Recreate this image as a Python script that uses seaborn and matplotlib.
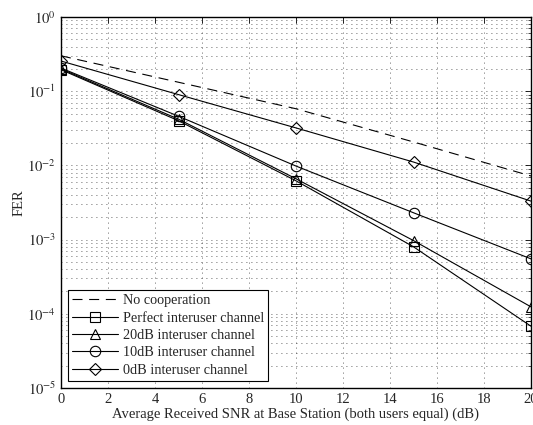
import numpy as np
import pandas as pd
import matplotlib
matplotlib.use("Agg")
import matplotlib.pyplot as plt
import seaborn as sns

snr = [0, 5, 10, 15, 20]
no_coop = [0.30, 0.132, 0.058, 0.0207, 0.0072]
perfect = [0.195, 0.040, 0.0062, 0.00080, 0.000068]
db20 = [0.200, 0.042, 0.0066, 0.00097, 0.000124]
db10 = [0.205, 0.046, 0.0098, 0.0023, 0.00055]
db0 = [0.255, 0.090, 0.032, 0.0111, 0.0033]

labels = ["No cooperation", "Perfect interuser channel", "20dB interuser channel",
          "10dB interuser channel", "0dB interuser channel"]

sns.set_theme(style="white")
plt.rcParams['font.family'] = ['Liberation Serif', 'DejaVu Serif']
plt.rcParams['mathtext.fontset'] = 'stix'

fig = plt.figure(figsize=(5.33, 4.25), dpi=100)
fig.patch.set_facecolor('white')

ax = fig.add_axes([61/533, 37/425, 470/533, 371/425])

series = [no_coop, perfect, db20, db10, db0]
markers = [None, 's', '^', 'o', 'D']
msizes = [0, 6.5, 7.5, 7.5, 6.5]
for vals, lab, mk, ms in zip(series, labels, markers, msizes):
    df = pd.DataFrame({"snr": snr, "fer": vals})
    if mk is None:
        sns.lineplot(data=df, x="snr", y="fer", ax=ax, color='black', linewidth=0.8,
                     linestyle=(0, (9, 6)), label=lab)
    else:
        sns.lineplot(data=df, x="snr", y="fer", ax=ax, color='black', linewidth=0.8,
                     marker=mk, markersize=ms, markerfacecolor='none',
                     markeredgecolor='black', markeredgewidth=0.8, label=lab)

ax.set_yscale('log')
ax.set_xlim(0, 20)
ax.set_ylim(1e-5, 1)
ax.set_xticks(range(0, 21, 2))
ax.set_yticks([1e-5, 1e-4, 1e-3, 1e-2, 1e-1, 1e0])
ax.set_yticklabels([r'$10^{-5}$', r'$10^{-4}$', r'$10^{-3}$', r'$10^{-2}$', r'$10^{-1}$', r'$10^{0}$'])
ax.yaxis.set_minor_locator(matplotlib.ticker.LogLocator(base=10, subs=np.arange(2, 10), numticks=20))
ax.yaxis.set_minor_formatter(matplotlib.ticker.NullFormatter())

ax.grid(True, which='major', axis='both', color='#333333', linestyle=(0, (1, 5)), linewidth=0.6)
ax.grid(True, which='minor', axis='y', color='#333333', linestyle=(0, (1, 5)), linewidth=0.6)

ax.tick_params(which='both', direction='in', top=True, right=True, labelsize=10.5, color='black')
ax.tick_params(which='major', length=4, width=0.6)
ax.tick_params(which='minor', length=2, width=0.5)
for sp in ax.spines.values():
    sp.set_color('black')
    sp.set_linewidth(1.0)

ax.set_xlabel("Average Received SNR at Base Station (both users equal) (dB)", fontsize=10.5, labelpad=1)
ax.set_ylabel("FER", fontsize=10.5, labelpad=1)

leg = ax.legend(loc='lower left', fontsize=10.3, frameon=True, fancybox=False, framealpha=1,
                edgecolor='black', borderaxespad=0.5, handlelength=3.2, handletextpad=0.3,
                labelspacing=0.3, borderpad=0.3)
leg.get_frame().set_linewidth(0.8)

fig.savefig("out.png", dpi=100)
